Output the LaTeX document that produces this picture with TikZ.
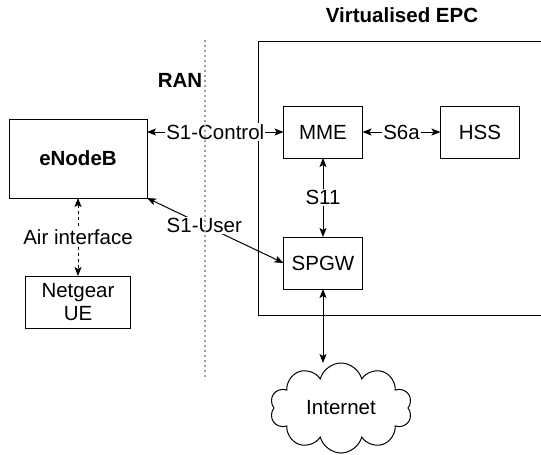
\documentclass[tikz,border=0pt]{standalone}
\usepackage{fontspec}
\setmainfont{Liberation Sans}
\usetikzlibrary{arrows.meta,positioning,shapes.symbols}

\begin{document}
\begin{tikzpicture}[x=1pt,y=-1pt,node distance=78pt,line width=1pt, box/.style={draw,align=center,inner sep=2pt,outer sep=0pt,minimum width=79pt,minimum height=52pt,font=\fontsize{20.5}{23}\selectfont}, lbl/.style={fill=white,inner sep=1pt,font=\fontsize{20.5}{23}\selectfont}, ttl/.style={font=\fontsize{20.5}{23}\selectfont\bfseries}, >={Stealth[length=9pt,width=7pt,inset=2pt]}]
\useasboundingbox (0,0) rectangle (541,455);
% EPC frame, open to the right
\draw (541,41) -| (258,315) -- (541,315);
\node[ttl] (epc) at (402,15) {Virtualised EPC};
\node[ttl] (ran) at (180,80) {RAN};
\node[box,minimum width=138pt,minimum height=79pt,font=\fontsize{20.5}{23}\selectfont\bfseries] (enb) at (78,158.5) {eNodeB};
\node[box,below=78pt of enb,minimum width=105pt] (ue) {Netgear\\UE};
\node[box] (mme) at (323,132) {MME};
\node[box,right=of mme] (hss) {HSS};
\node[box,below=79pt of mme] (spgw) {SPGW};
\node[draw,cloud,cloud puffs=10,aspect=1.6,minimum width=142pt,minimum height=90pt,inner sep=0pt,outer sep=0pt,font=\fontsize{20.5}{23}\selectfont] (inet) at (341,408) {Internet};
\draw[<->] (enb.east |- mme.west) -- (mme.west) node[lbl,midway] {S1-Control};
\draw[<->] (mme) -- (hss) node[lbl,midway] {S6a};
\draw[<->] (mme) -- (spgw) node[lbl,midway] {S11};
\draw[<->] (enb.south east) -- (spgw.west) node[lbl,pos=0.42] {S1-User};
\draw[<->,dashed] (enb) -- (ue) node[lbl,midway] {Air interface};
\draw[<->] (spgw) -- (spgw |- inet.north);
% RAN border
\draw[gray!75,line width=2pt,dash pattern=on 2pt off 3pt] (205,40) -- (205,380);
\end{tikzpicture}
\end{document}
